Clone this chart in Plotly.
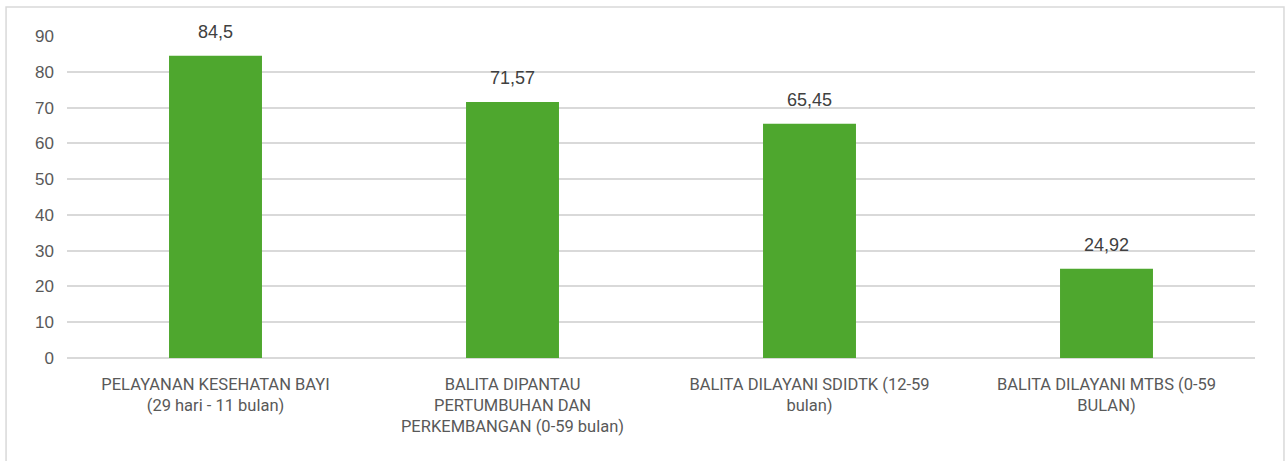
import plotly.graph_objects as go

categories = [
    "PELAYANAN KESEHATAN BAYI<br>(29 hari - 11 bulan)",
    "BALITA DIPANTAU<br>PERTUMBUHAN DAN<br>PERKEMBANGAN (0-59 bulan)",
    "BALITA DILAYANI SDIDTK (12-59<br>bulan)",
    "BALITA DILAYANI MTBS (0-59<br>BULAN)",
]
values = [84.5, 71.57, 65.45, 24.92]
labels = ["84,5", "71,57", "65,45", "24,92"]
y_ticks = [0, 10, 20, 30, 40, 50, 60, 70, 80, 90]

xs = list(range(len(categories)))

fig = go.Figure()
fig.add_trace(go.Bar(
    x=xs,
    y=values,
    marker=dict(color="#4EA72E", line=dict(width=0)),
    hoverinfo="skip",
))

annotations = [
    dict(x=x, y=v, text=t, xref="x", yref="y", showarrow=False,
         yanchor="bottom", yshift=12,
         font=dict(size=18, color="#404040", family="Liberation Sans, Arial"))
    for x, v, t in zip(xs, values, labels)
]

fig.update_layout(
    width=1287, height=461,
    margin=dict(l=67, r=32, t=36, b=103),
    paper_bgcolor="white", plot_bgcolor="white",
    bargap=0.687,
    showlegend=False,
    font=dict(family="Roboto, Arial", color="#595959"),
    xaxis=dict(
        tickmode="array",
        tickvals=xs,
        ticktext=categories,
        tickfont=dict(size=16.5, color="#595959", family="Roboto, Arial"),
        showgrid=False, showline=False, zeroline=False, ticks="",
        range=[-0.5, 3.5], ticklabelstandoff=14,
    ),
    yaxis=dict(
        range=[0, 90],
        tickmode="array", tickvals=y_ticks,
        tickfont=dict(size=17, color="#595959", family="Liberation Sans, Arial"),
        showgrid=True, gridcolor="#d9d9d9", gridwidth=1.5,
        zeroline=True, zerolinecolor="#d9d9d9", zerolinewidth=1.5,
        showline=False, ticks="", ticklabelstandoff=12,
    ),
    annotations=annotations,
    shapes=[dict(
        type="rect", xref="paper", yref="paper",
        x0=-0.0513, x1=1.0244, y0=-0.34, y1=1.090,
        line=dict(color="#d9d9d9", width=1.5), fillcolor="rgba(0,0,0,0)", layer="below",
    )],
)

fig.write_html(
    "out.html",
    config={"displayModeBar": False},
    post_script="document.body.style.margin='0';window.dispatchEvent(new Event('resize'));",
)
